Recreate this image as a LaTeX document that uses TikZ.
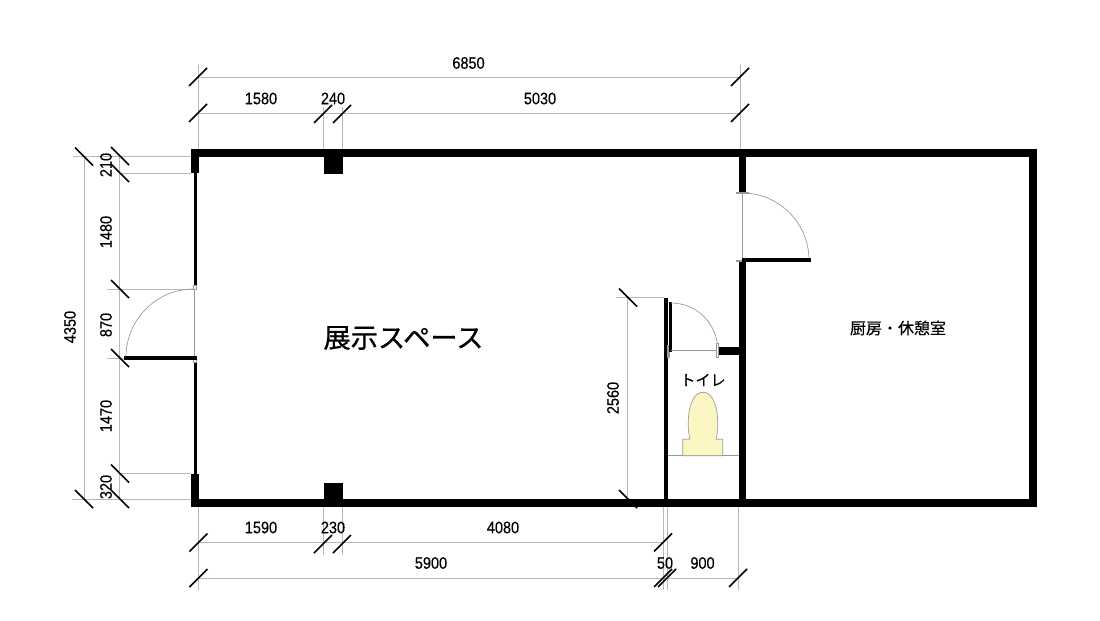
\documentclass[tikz,border=0pt]{standalone}
\usepackage{fontspec}
\setmainfont[FakeStretch=0.87,FakeBold=0.25]{Liberation Sans}
\newfontfamily\cjk[FakeBold=0.3]{Noto Sans CJK JP}
\newfontfamily\cjkbig[FakeBold=0.8]{Noto Sans CJK JP}
\definecolor{dimgray}{HTML}{B8B8B8}
\definecolor{toiletfill}{HTML}{FBF6C4}
\tikzset{
	dimline/.style = {draw=dimgray, line width=0.75pt},
	doorline/.style = {draw=gray!80, line width=0.5pt},
	slash/.style = {draw=black, line width=1.2pt},
	wall/.style = {fill=black, draw=none},
	leaf/.style = {draw=black, line width=2.8pt},
	jamb/.style = {draw=gray!80, fill=white, line width=0.5pt},
	dimtext/.style = {inner sep=0pt, font=\fontsize{12.5}{14}\selectfont}
}

\begin{document}
\begin{tikzpicture}[x=0.75pt, y=-0.75pt]
	\useasboundingbox (0,0) rectangle (1100,621);
	\fill[white] (0,0) rectangle (1100,621);

	% dimension lines, top
	\draw[dimline] (198,77) -- (740,77);
	\draw[dimline] (198,113) -- (740,113);
	\draw[dimline] (198,65) -- (198,149);
	\draw[dimline] (740,65) -- (740,149);
	\draw[dimline] (323.5,107) -- (323.5,149);
	\draw[dimline] (342.5,107) -- (342.5,149);

	% dimension lines, left
	\draw[dimline] (84,156) -- (84,499);
	\draw[dimline] (119.5,156) -- (119.5,499);
	\draw[dimline] (73,156.5) -- (191,156.5);
	\draw[dimline] (119,173) -- (191,173);
	\draw[dimline] (107,289) -- (194,289);
	\draw[dimline] (107,358) -- (124,358);
	\draw[dimline] (119,473.5) -- (191,473.5);
	\draw[dimline] (72,499) -- (191,499);

	% dimension lines, bottom
	\draw[dimline] (198,542.5) -- (664,542.5);
	\draw[dimline] (198,578) -- (738.5,578);
	\draw[dimline] (198.5,507) -- (198.5,590);
	\draw[dimline] (323.5,507) -- (323.5,555);
	\draw[dimline] (342.5,507) -- (342.5,555);
	\draw[dimline] (663.5,507) -- (663.5,590);
	\draw[dimline] (667.5,507) -- (667.5,590);
	\draw[dimline] (738.5,507) -- (738.5,590);

	% dimension line, toilet
	\draw[dimline] (627.5,297.5) -- (627.5,499);
	\draw[dimline] (616,297.5) -- (664,297.5);

	% slashes
	\foreach \px/\py in {198/77, 740/77, 198/113, 323/114, 342/114, 740/113,
		198.5/542.5, 323/544, 342/544, 663/542.5,
		198.5/578, 663/578, 667/578, 738/578}
		\draw[slash] (\px-9,\py+9) -- (\px+9,\py-9);
	\foreach \px/\py in {84/156.5, 120/156, 120/173, 120/289, 120/358, 120/473.5,
		84/499, 120/499, 628/297.5, 628/499}
		\draw[slash] (\px-9,\py-9) -- (\px+9,\py+9);

	% walls
	\fill[wall] (191,149) rectangle (1037,157);
	\fill[wall] (191,499) rectangle (1037,507);
	\fill[wall] (1029,149) rectangle (1037,507);
	\fill[wall] (191,149) rectangle (199,173);
	\fill[wall] (191,473.5) rectangle (199,507);
	\fill[wall] (193.7,173) rectangle (196.5,285);
	\fill[wall] (193.7,362) rectangle (196.5,473.5);
	\fill[wall] (738.5,149) rectangle (746,192);
	\fill[wall] (738.5,261) rectangle (746,507);
	\fill[wall] (663.5,297.5) rectangle (667.5,499);
	\fill[wall] (718.5,346.5) rectangle (738.5,354.5);
	\fill[wall] (323.5,157) rectangle (342.5,174);
	\fill[wall] (324,482.5) rectangle (342.5,499);

	% entrance door
	\draw[jamb] (193.7,285) rectangle (196.5,289.5);
	\draw[jamb] (193.7,358) rectangle (196.5,362);
	\draw[doorline] (194.5,289) -- (194.5,358);
	\draw[doorline] (194,289) arc[start angle=90, end angle=180, radius=51pt];
	\draw[leaf] (124,358) -- (197,358);

	% kitchen door
	\draw[doorline] (742.5,193) -- (742.5,260);
	\draw[jamb] (736,192) rectangle (748,193.5);
	\draw[doorline, fill=gray!80] (736,260) rectangle (748,261.5);
	\draw[doorline] (742,193) arc[start angle=90, end angle=0, radius=50.25pt];
	\draw[leaf] (742,260) -- (810.5,260);

	% toilet door
	\draw[doorline, fill=gray!80] (667.5,345) rectangle (669.5,357);
	\fill[wall] (668.5,301.5) rectangle (671.7,351.5);
	\draw[doorline] (671,350.5) -- (717,350.5);
	\draw[doorline] (671,303) arc[start angle=90, end angle=0, radius=35pt];
	\draw[jamb] (716,343) rectangle (718.5,357);

	% toilet bowl
	\draw[doorline] (667.5,455.7) -- (738.5,455.7);
	\draw[doorline, fill=toiletfill] (682.7,455.7) -- (682.7,439.3) -- (690,439.3)
		.. controls (686,425) and (688,392.3) .. (703,392.3)
		.. controls (718,392.3) and (720,425) .. (716,439.3)
		-- (722.7,439.3) -- (722.7,455.7) -- cycle;

	% labels
	\node[dimtext] (total) at (468.5,63) {6850};
	\node[dimtext] (topa) at (261,98.5) {1580};
	\node[dimtext] (topb) at (333,98.5) {240};
	\node[dimtext] (topc) at (540,98.5) {5030};
	\node[dimtext, rotate=90] (lefta) at (106,165) {210};
	\node[dimtext, rotate=90] (leftb) at (106,232) {1480};
	\node[dimtext, rotate=90] (leftc) at (106,325) {870};
	\node[dimtext, rotate=90] (leftd) at (106,416) {1470};
	\node[dimtext, rotate=90] (lefte) at (106,487) {320};
	\node[dimtext, rotate=90] (height) at (70,327) {4350};
	\node[dimtext, rotate=90] (toiletdim) at (613,398) {2560};
	\node[dimtext] (bota) at (261,527.5) {1590};
	\node[dimtext] (botb) at (333,527.5) {230};
	\node[dimtext] (botc) at (503,527.5) {4080};
	\node[dimtext] (wida) at (431,563) {5900};
	\node[dimtext] (widb) at (665,563) {50};
	\node[dimtext] (widc) at (702.5,563) {900};
	\node[inner sep=0pt, font=\cjkbig\fontsize{20.4}{22}\selectfont] (space) at (403.5,338) {展示スペース};
	\node[inner sep=0pt, font=\cjk\fontsize{12}{14}\selectfont] (kitchen) at (898,328) {厨房・休憩室};
	\node[inner sep=0pt, font=\cjk\fontsize{11.3}{13}\selectfont] (toilet) at (703,380) {トイレ};
\end{tikzpicture}
\end{document}
